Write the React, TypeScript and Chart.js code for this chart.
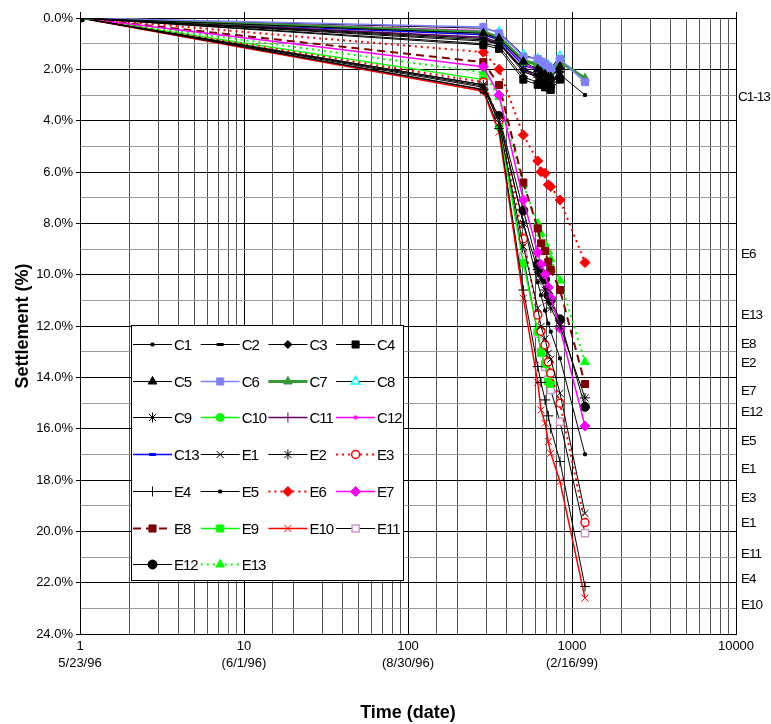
import React, { useEffect, useRef } from 'react';
import { Chart, registerables } from 'chart.js';
import { drawPoint } from 'chart.js/helpers';

Chart.register(...registerables);

// ---- Data ----
const days = [1, 288, 359, 505, 618, 647, 685, 717, 742, 845, 1200];

const C1 = [0, 0.9, 1.0, 2.1, 2.3, 2.4, 2.5, 2.6, 2.6, 2.2, 3.0];
const C2 = [0, 0.8, 1.0, 2.0, 2.2, 2.4, 2.5, 2.5, 2.6, 2.1, null];
const C3 = [0, 1.0, 1.1, 2.3, 2.5, 2.5, 2.6, 2.7, 2.7, 2.3, null];
const C4 = [0, 1.05, 1.2, 2.4, 2.6, 2.6, 2.7, 2.7, 2.8, 2.4, null];
const C5 = [0, 0.6, 0.8, 1.7, 2.0, 2.1, 2.2, 2.3, 2.3, 1.9, null];
const C6 = [0, 0.35, 0.6, 1.5, 1.6, 1.7, 1.8, 1.9, 2.0, 1.6, 2.5];
const C7 = [0, 0.55, 0.75, 1.65, 1.8, 1.85, 1.95, 2.0, 2.05, 1.7, 2.35];
const C8 = [0, 0.4, 0.55, 1.45, 1.6, 1.7, 1.8, 1.85, 1.95, 1.5, null];
const C9 = [0, 0.85, 1.0, 2.0, 2.2, 2.3, 2.4, 2.45, 2.5, 2.1, null];
const C10 = [0, 0.55, 0.8, 1.7, 1.85, 1.9, 2.0, 2.05, 2.1, 1.75, null];
const C11 = [0, 0.75, 0.95, 2.0, 2.3, 2.5, 2.55, 2.6, 2.6, 2.0, null];
const C12 = [0, 0.5, 0.75, 1.8, 2.0, 2.05, 2.15, 2.2, 2.25, 1.85, null];
const C13 = [0, 0.65, 0.85, 1.85, 2.0, 2.1, 2.2, 2.25, 2.3, 1.95, null];

const E1 = [0, 2.65, 4.1, 8.9, 11.3, 12.02, 12.5, 13.06, 13.3, 14.62, 19.3];
const E2 = [0, 2.6, 3.9, 8.0, 9.8, 10.2, 10.6, 11.0, 11.3, 12.0, 14.8];
const E3 = [0, 2.5, 4.0, 8.6, 11.57, 12.2, 12.74, 13.4, 13.84, 15.01, 19.66];
const E4 = [0, 2.8, 4.3, 10.6, 13.58, 14.2, 14.88, 15.5, 16.0, 17.28, 22.15];
const E5 = [0, 2.7, 4.0, 8.0, 10.3, 10.8, 11.4, 11.9, 12.22, 13.26, 17.0];
const E6 = [0, 1.33, 2.0, 4.56, 5.57, 5.99, 6.05, 6.5, 6.57, 7.09, 9.53];
const E7 = [0, 1.9, 3.0, 7.09, 9.14, 9.6, 10.0, 10.5, 10.9, 12.09, 15.9];
const E8 = [0, 1.72, 2.61, 6.41, 8.2, 8.78, 9.08, 9.5, 9.82, 10.6, 14.26];
const E9 = [0, 2.4, 4.2, 9.56, 12.22, 13.04, 13.48, 14.17, 14.26, null, null];
const E10 = [0, 2.85, 4.45, 10.92, 14.2, 15.27, 15.79, 16.5, 16.96, 18.06, 22.6];
const E11 = [0, 2.6, 4.1, 9.3, 12.3, 13.0, 13.6, 14.1, 14.49, 15.73, 20.07];
const E12 = [0, 2.78, 3.82, 7.5, 9.6, 9.92, 10.18, 10.8, 11.0, 11.74, 15.15];
const E13 = [0, 2.12, 3.07, 6.5, 8.0, 8.4, 8.8, 9.1, 9.4, 10.23, 13.4];

const xTickValues = [1, 10, 100, 1000, 10000];
const xTickLines = [['1', '5/23/96'], ['10', '(6/1/96)'], ['100', '(8/30/96)'], ['1000', '(2/16/99)'], ['10000']];

const endLabels = ['C1-13', 'E6', 'E13', 'E8', 'E2', 'E7', 'E12', 'E5', 'E1', 'E3', 'E1', 'E11', 'E4', 'E10'];
const endLabelValues = [3.1, 9.2, 11.6, 12.7, 13.45, 14.55, 15.35, 16.5, 17.6, 18.7, 19.7, 20.9, 21.85, 22.9];

// ---- Styles ----
type S = { name: string; data: (number | null)[]; line: string; pt: string; fill: string; stroke: string; r: number; lw: number; pbw: number; dash?: number[] };
const BLACK = '#000000';
const series: S[] = [
  { name: 'C1', data: C1, line: BLACK, pt: 'rect', fill: BLACK, stroke: BLACK, r: 2, lw: 1, pbw: 1 },
  { name: 'C2', data: C2, line: BLACK, pt: 'line', fill: BLACK, stroke: BLACK, r: 3.5, lw: 1, pbw: 3 },
  { name: 'C3', data: C3, line: BLACK, pt: 'rectRot', fill: BLACK, stroke: BLACK, r: 4, lw: 1, pbw: 1 },
  { name: 'C4', data: C4, line: BLACK, pt: 'rect', fill: BLACK, stroke: BLACK, r: 5, lw: 1, pbw: 1 },
  { name: 'C5', data: C5, line: BLACK, pt: 'triangle', fill: BLACK, stroke: BLACK, r: 5, lw: 1, pbw: 1 },
  { name: 'C6', data: C6, line: '#8080FF', pt: 'rect', fill: '#8080FF', stroke: '#8080FF', r: 5, lw: 1.5, pbw: 1 },
  { name: 'C7', data: C7, line: '#339933', pt: 'triangle', fill: '#339933', stroke: '#339933', r: 5, lw: 3, pbw: 1 },
  { name: 'C8', data: C8, line: BLACK, pt: 'triangle', fill: '#FFFFFF', stroke: '#00FFFF', r: 5, lw: 1, pbw: 1.5 },
  { name: 'C9', data: C9, line: BLACK, pt: 'star', fill: BLACK, stroke: BLACK, r: 5, lw: 1, pbw: 1 },
  { name: 'C10', data: C10, line: '#00FF00', pt: 'circle', fill: '#00FF00', stroke: '#00FF00', r: 4, lw: 1.5, pbw: 1 },
  { name: 'C11', data: C11, line: '#660066', pt: 'cross', fill: '#660066', stroke: '#660066', r: 5, lw: 1.5, pbw: 1 },
  { name: 'C12', data: C12, line: '#FF00FF', pt: 'rect', fill: '#FF00FF', stroke: '#FF00FF', r: 2, lw: 1.5, pbw: 1 },
  { name: 'C13', data: C13, line: '#0000FF', pt: 'line', fill: '#0000FF', stroke: '#0000FF', r: 3.5, lw: 1.5, pbw: 3 },
  { name: 'E1', data: E1, line: BLACK, pt: 'crossRot', fill: BLACK, stroke: BLACK, r: 5, lw: 1, pbw: 1 },
  { name: 'E2', data: E2, line: BLACK, pt: 'star', fill: BLACK, stroke: BLACK, r: 5, lw: 1, pbw: 1 },
  { name: 'E3', data: E3, line: '#FF0000', pt: 'circle', fill: '#FFFFFF', stroke: '#FF0000', r: 4, lw: 2, pbw: 1.5, dash: [2, 4] },
  { name: 'E4', data: E4, line: BLACK, pt: 'cross', fill: BLACK, stroke: BLACK, r: 5, lw: 1, pbw: 1 },
  { name: 'E5', data: E5, line: BLACK, pt: 'rect', fill: BLACK, stroke: BLACK, r: 2, lw: 1, pbw: 1 },
  { name: 'E6', data: E6, line: '#FF0000', pt: 'rectRot', fill: '#FF0000', stroke: '#FF0000', r: 5, lw: 2, pbw: 1, dash: [2, 4] },
  { name: 'E7', data: E7, line: '#FF00FF', pt: 'rectRot', fill: '#FF00FF', stroke: '#FF00FF', r: 5, lw: 1.5, pbw: 1 },
  { name: 'E8', data: E8, line: '#800000', pt: 'rect', fill: '#800000', stroke: '#800000', r: 5, lw: 2, pbw: 1, dash: [8, 5] },
  { name: 'E9', data: E9, line: '#00FF00', pt: 'rect', fill: '#00FF00', stroke: '#00FF00', r: 5, lw: 1.5, pbw: 1 },
  { name: 'E10', data: E10, line: '#FF0000', pt: 'crossRot', fill: '#FF0000', stroke: '#FF0000', r: 5, lw: 1.5, pbw: 1 },
  { name: 'E11', data: E11, line: BLACK, pt: 'rect', fill: '#FFFFFF', stroke: '#CC99CC', r: 5, lw: 1, pbw: 1.5 },
  { name: 'E12', data: E12, line: BLACK, pt: 'circle', fill: BLACK, stroke: BLACK, r: 4.5, lw: 1, pbw: 1 },
  { name: 'E13', data: E13, line: '#00FF00', pt: 'triangle', fill: '#00FF00', stroke: '#00FF00', r: 5, lw: 2, pbw: 1, dash: [2, 4] },
];

const FONT = "'Liberation Sans', Arial, sans-serif";

const overlayPlugin = {
  id: 'overlay',
  afterDraw(chart: any) {
    const ctx = chart.ctx as any;
    const x = chart.scales.x;
    const y = chart.scales.y;
    const area = chart.chartArea;
    ctx.save();
    // decade tick marks above the plot
    ctx.strokeStyle = '#000';
    ctx.lineWidth = 1;
    for (const v of xTickValues) {
      const px = Math.round(x.getPixelForValue(v)) + 0.5;
      ctx.beginPath();
      ctx.moveTo(px, area.top - 6);
      ctx.lineTo(px, area.top);
      ctx.stroke();
    }
    // end labels
    ctx.letterSpacing = '-1px';
    ctx.fillStyle = '#000';
    ctx.font = `13.5px ${FONT}`;
    ctx.textAlign = 'left';
    ctx.textBaseline = 'middle';
    endLabels.forEach((t, i) => {
      ctx.fillText(t, area.right + (i === 0 ? 2 : 5), y.getPixelForValue(endLabelValues[i]));
    });
    // legend box
    const bx = 131, by = 325, bw = 272, bh = 255;
    ctx.fillStyle = '#FFFFFF';
    ctx.fillRect(bx, by, bw, bh);
    ctx.strokeStyle = '#000';
    ctx.lineWidth = 1;
    ctx.strokeRect(bx + 0.5, by + 0.5, bw, bh);
    const colW = 67.7, rowH = 36.7;
    series.forEach((s, i) => {
      const col = i % 4, row = Math.floor(i / 4);
      const x0 = bx + 2 + col * colW;
      const yy = Math.round(by + 19 + row * rowH) + 0.5;
      ctx.save();
      ctx.strokeStyle = s.line;
      ctx.lineWidth = s.lw;
      ctx.setLineDash(s.dash || []);
      ctx.beginPath();
      ctx.moveTo(x0, yy);
      ctx.lineTo(x0 + 39, yy);
      ctx.stroke();
      ctx.setLineDash([]);
      ctx.fillStyle = s.fill;
      ctx.strokeStyle = s.stroke;
      ctx.lineWidth = s.pbw;
      drawPoint(ctx, { pointStyle: s.pt, radius: s.r, rotation: 0, borderWidth: s.pbw } as any, x0 + 19.5, yy);
      ctx.restore();
      ctx.fillStyle = '#000';
      ctx.font = `15px ${FONT}`;
      ctx.letterSpacing = '-1px';
      ctx.textAlign = 'left';
      ctx.textBaseline = 'middle';
      ctx.fillText(s.name, x0 + 41, yy + 1);
    });
    ctx.restore();
  },
};

export default function App() {
  const ref = useRef<HTMLCanvasElement | null>(null);
  useEffect(() => {
    document.body.style.margin = '0';
    const canvas = ref.current!;
    const datasets = series.map((s) => ({
      label: s.name,
      data: days.map((d, i) => ({ x: d, y: s.data[i] })),
      borderColor: s.line,
      borderWidth: s.lw,
      borderDash: s.dash || [],
      pointStyle: s.pt,
      pointRadius: s.r,
      pointBackgroundColor: s.fill,
      pointBorderColor: s.stroke,
      pointBorderWidth: s.pbw,
      spanGaps: true,
      tension: 0,
      fill: false,
    }));
    const chart = new Chart(canvas, {
      type: 'line',
      data: { datasets },
      plugins: [overlayPlugin],
      options: {
        animation: false,
        responsive: false,
        devicePixelRatio: 1,
        layout: { padding: { top: 18, right: 35, left: 0, bottom: 0 } },
        plugins: { legend: { display: false }, tooltip: { enabled: false } },
        scales: {
          x: {
            type: 'logarithmic',
            min: 1,
            max: 10000,
            afterFit: (s: any) => { s.height = 90; },
            border: { display: true, color: '#000', width: 1 },
            grid: {
              color: (c: any) => (Number.isInteger(Math.round(Math.log10(c.tick.value) * 1e6) / 1e6) ? '#000' : '#555'),
              lineWidth: 1,
              tickLength: 0,
              drawTicks: false,
            },
            ticks: {
              autoSkip: false,
              maxRotation: 0,
              minRotation: 0,
              padding: 4,
              color: '#000',
              font: { family: FONT, size: 13, lineHeight: 1.3 },
              callback: (v: any) => {
                const idx = xTickValues.findIndex((t) => Math.abs(t - Number(v)) < 1e-6);
                return idx >= 0 ? xTickLines[idx] : '';
              },
            },
            title: {
              display: true,
              text: 'Time (date)',
              color: '#000',
              font: { family: FONT, size: 18, weight: 'bold' },
              padding: { top: 1, bottom: 0 },
            },
          },
          y: {
            type: 'linear',
            reverse: true,
            min: 0,
            max: 24,
            afterFit: (s: any) => { s.width = 80; },
            border: { display: true, color: '#000', width: 1 },
            grid: {
              color: (c: any) => (c.tick.value % 2 === 0 ? '#000' : '#999'),
              tickColor: (c: any) => (c.tick.value % 2 === 0 ? '#000' : 'rgba(0,0,0,0)'),
              tickLength: 4,
              lineWidth: 1,
            },
            ticks: {
              stepSize: 1,
              autoSkip: false,
              padding: 3,
              color: '#000',
              font: { family: FONT, size: 13 },
              callback: (v: any) => (Number(v) % 2 === 0 ? `${Number(v).toFixed(1)}%` : ''),
            },
            title: {
              display: true,
              text: 'Settlement (%)',
              color: '#000',
              font: { family: FONT, size: 18, weight: 'bold' },
              padding: { top: 12, bottom: 0 },
            },
          },
        },
      } as any,
    });
    return () => chart.destroy();
  }, []);
  return (
    <div style={{ width: 771, height: 724 }}>
      <canvas ref={ref} width={771} height={724} style={{ display: 'block' }} />
    </div>
  );
}
